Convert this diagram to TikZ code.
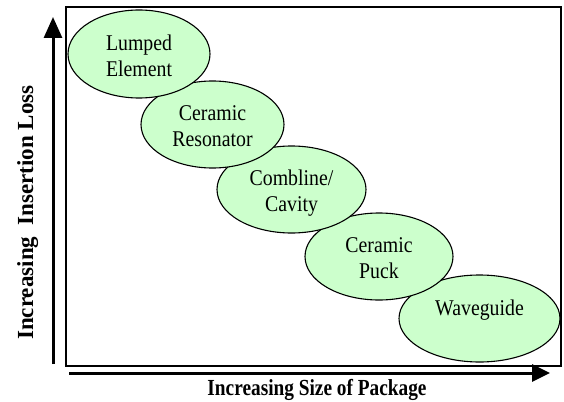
\documentclass[tikz,border=0pt]{standalone}
\usepackage{fontspec}
\setmainfont{Liberation Serif}
\usetikzlibrary{shapes.geometric,arrows.meta}
\definecolor{ovalgreen}{RGB}{204,255,204}
\newcommand{\ovaltext}[2]{\raisebox{#1}[\height][\depth]{\scalebox{0.88}[1]{\begin{tabular}{@{}c@{}}#2\end{tabular}}}}

\begin{document}
\begin{tikzpicture}[x=1pt,y=-1pt,
        filter/.style={ellipse,draw=black,line width=1.1pt,fill=ovalgreen,inner sep=0pt,font=\fontsize{22.5}{26}\selectfont},
        axis/.style={line width=3pt,-{Triangle[width=18pt,length=21pt]}},
        axislabel/.style={font=\bfseries\fontsize{23}{26}\selectfont}]
        \useasboundingbox (0,0) rectangle (564,401);
        \draw[line width=1.2pt] (66,7) rectangle (561,366);
        % axes
        \coordinate (ybot) at (53,364);
        \coordinate (ytop) at (53,17);
        \coordinate (xleft) at (69,373);
        \coordinate (xright) at (550,373);
        \draw[axis] (ybot) -- (ytop);
        \draw[axis,-{Triangle[width=17pt,length=18pt]}] (xleft) -- (xright);
        \node[axislabel,rotate=90,anchor=base] (lossl) at (33,212.5) {Increasing\ \ Insertion Loss};
        \node[axislabel,anchor=base] (sizel) at (317,395) {\scalebox{0.84}[1]{Increasing Size of Package}};
        % filter types, last one drawn first
        \node[filter,minimum width=161pt,minimum height=87pt] (waveguide) at (479.5,318.5) {\ovaltext{8.5pt}{Waveguide}};
        \node[filter,minimum width=148pt,minimum height=87pt] (puck) at (379,256.5) {\ovaltext{-4pt}{Ceramic\\Puck}};
        \node[filter,minimum width=149pt,minimum height=87pt] (combline) at (291.5,189.5) {\ovaltext{-4pt}{Combline/\\Cavity}};
        \node[filter,minimum width=143pt,minimum height=87pt] (resonator) at (212.5,124.5) {\ovaltext{-4pt}{Ceramic\\Resonator}};
        \node[filter,minimum width=142pt,minimum height=88pt] (lumped) at (139,54) {\ovaltext{-4pt}{Lumped\\Element}};
\end{tikzpicture}
\end{document}
